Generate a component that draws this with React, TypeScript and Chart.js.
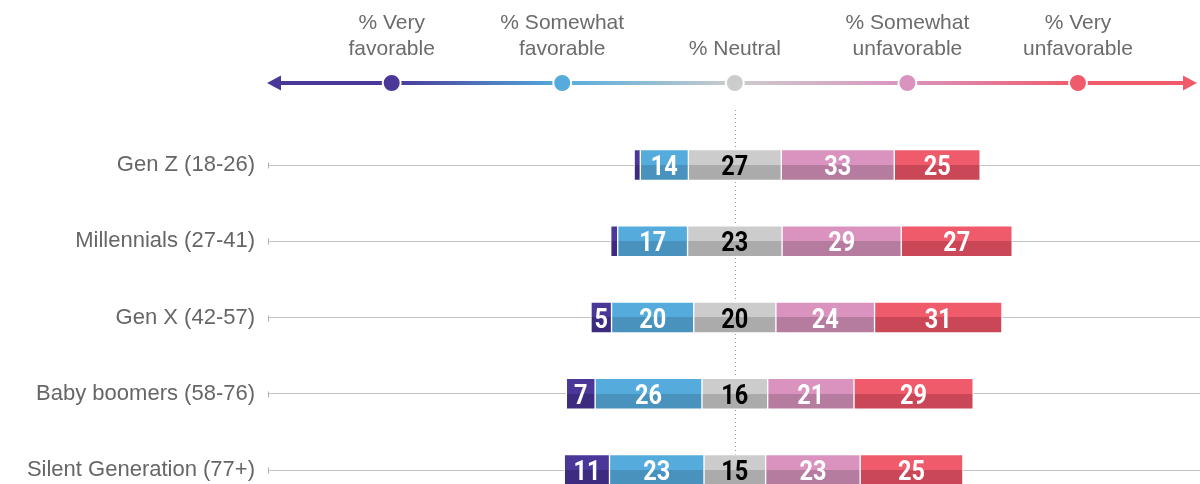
import React, { useEffect, useRef } from "react";
import { Chart, registerables } from "chart.js";

Chart.register(...registerables);

// ---- Data ----
const categories = [
  "Gen Z (18-26)",
  "Millennials (27-41)",
  "Gen X (42-57)",
  "Baby boomers (58-76)",
  "Silent Generation (77+)",
];

// bar lengths as drawn (percentage points)
const veryFavorable = [1.5, 1.7, 5, 7, 11];
const somewhatFavorable = [11.7, 17, 20, 26, 23];
const neutral = [22.6, 23, 20, 16, 15];
const somewhatUnfavorable = [27.5, 29, 24, 21, 23];
const veryUnfavorable = [20.9, 27, 31, 29, 25];

// printed values
const veryFavorableLabels = ["", "", "5", "7", "11"];
const somewhatFavorableLabels = ["14", "17", "20", "26", "23"];
const neutralLabels = ["27", "23", "20", "16", "15"];
const somewhatUnfavorableLabels = ["33", "29", "24", "21", "23"];
const veryUnfavorableLabels = ["25", "27", "31", "29", "25"];

const legendLabels = [
  ["% Very", "favorable"],
  ["% Somewhat", "favorable"],
  ["", "% Neutral"],
  ["% Somewhat", "unfavorable"],
  ["% Very", "unfavorable"],
];

// ---- Styles ----
const topColors = ["#4A3797", "#55ACDC", "#CCCCCC", "#DA93BF", "#EF5B6A"];
const bottomColors = ["#3D2B80", "#4892BD", "#ABABAB", "#B57CA0", "#C94757"];
const labelColors = ["#ffffff", "#ffffff", "#000000", "#ffffff", "#ffffff"];
const BAR_THICKNESS = 31;

export default function App() {
  const ref = useRef<HTMLCanvasElement | null>(null);

  useEffect(() => {
    document.body.style.margin = "0";
    const canvas = ref.current;
    if (!canvas) return;

    const half = neutral.map((n) => n / 2);
    const ranges = [
      veryFavorable.map((v, i) => [-half[i] - somewhatFavorable[i] - v, -half[i] - somewhatFavorable[i]]),
      somewhatFavorable.map((v, i) => [-half[i] - v, -half[i]]),
      neutral.map((v, i) => [-half[i], half[i]]),
      somewhatUnfavorable.map((v, i) => [half[i], half[i] + v]),
      veryUnfavorable.map((v, i) => [half[i] + somewhatUnfavorable[i], half[i] + somewhatUnfavorable[i] + v]),
    ];
    const labelSets = [
      veryFavorableLabels,
      somewhatFavorableLabels,
      neutralLabels,
      somewhatUnfavorableLabels,
      veryUnfavorableLabels,
    ];
    const names = ["Very favorable", "Somewhat favorable", "Neutral", "Somewhat unfavorable", "Very unfavorable"];

    const makeBg = (k: number) => (ctx: any) => {
      const chart = ctx.chart;
      const y = chart.scales && chart.scales.y;
      if (!y || ctx.dataIndex === undefined) return topColors[k];
      const c = y.getPixelForValue(ctx.dataIndex);
      if (!isFinite(c)) return topColors[k];
      const h = BAR_THICKNESS / 2;
      const g = chart.ctx.createLinearGradient(0, c - h, 0, c + h);
      g.addColorStop(0, topColors[k]);
      g.addColorStop(0.5, topColors[k]);
      g.addColorStop(0.5, bottomColors[k]);
      g.addColorStop(1, bottomColors[k]);
      return g;
    };

    const headerPlugin = {
      id: "header",
      beforeDraw(chart: any) {
        const ctx = chart.ctx;
        const x = chart.scales.x;
        const area = chart.chartArea;
        const stops = [-83.5, -42, 0, 42, 83.5].map((v) => x.getPixelForValue(v));
        const lineY = 83;
        const left = area.left - 1;
        const right = chart.width - 3;
        ctx.save();
        // texts
        ctx.fillStyle = "#6b6b6b";
        ctx.font = "21px 'Liberation Sans', Arial, sans-serif";
        ctx.textAlign = "center";
        ctx.textBaseline = "alphabetic";
        legendLabels.forEach((lines, i) => {
          if (lines[0]) ctx.fillText(lines[0], stops[i], 29);
          if (lines[1]) ctx.fillText(lines[1], stops[i], 55);
        });
        // gradient line
        const g = ctx.createLinearGradient(left, 0, right, 0);
        g.addColorStop(0, topColors[0]);
        stops.forEach((s, i) => g.addColorStop((s - left) / (right - left), topColors[i]));
        g.addColorStop(1, topColors[4]);
        ctx.strokeStyle = g;
        ctx.lineWidth = 4;
        ctx.beginPath();
        ctx.moveTo(left + 10, lineY);
        ctx.lineTo(right - 10, lineY);
        ctx.stroke();
        // arrow heads
        ctx.fillStyle = topColors[0];
        ctx.beginPath();
        ctx.moveTo(left, lineY);
        ctx.lineTo(left + 14, lineY - 7.5);
        ctx.lineTo(left + 14, lineY + 7.5);
        ctx.closePath();
        ctx.fill();
        ctx.fillStyle = topColors[4];
        ctx.beginPath();
        ctx.moveTo(right, lineY);
        ctx.lineTo(right - 14, lineY - 7.5);
        ctx.lineTo(right - 14, lineY + 7.5);
        ctx.closePath();
        ctx.fill();
        // dots
        stops.forEach((s, i) => {
          ctx.beginPath();
          ctx.arc(s, lineY, 9, 0, Math.PI * 2);
          ctx.fillStyle = topColors[i];
          ctx.fill();
          ctx.lineWidth = 2;
          ctx.strokeStyle = "#ffffff";
          ctx.stroke();
        });
        // dotted center line
        const cx = Math.round(x.getPixelForValue(0)) + 0.5;
        ctx.strokeStyle = "#9a9a9a";
        ctx.lineWidth = 1;
        ctx.setLineDash([1, 3]);
        ctx.beginPath();
        ctx.moveTo(cx, 110);
        ctx.lineTo(cx, chart.height);
        ctx.stroke();
        ctx.setLineDash([]);
        ctx.restore();
      },
      afterDraw(chart: any) {
        // small ticks at gridline start
        const ctx = chart.ctx;
        const area = chart.chartArea;
        const yS = chart.scales.y;
        ctx.save();
        ctx.strokeStyle = "#b0b0b0";
        ctx.lineWidth = 1;
        categories.forEach((_, i) => {
          const yy = Math.round(yS.getPixelForValue(i));
          ctx.beginPath();
          ctx.moveTo(area.left + 0.5, yy - 2.5);
          ctx.lineTo(area.left + 0.5, yy + 3.5);
          ctx.stroke();
        });
        ctx.restore();
      },
    };

    const labelPlugin = {
      id: "barLabels",
      afterDatasetsDraw(chart: any) {
        const ctx = chart.ctx;
        ctx.save();
        ctx.font = "bold 28px Roboto, 'Liberation Sans', sans-serif";
        ctx.textAlign = "center";
        ctx.textBaseline = "alphabetic";
        chart.data.datasets.forEach((_: any, k: number) => {
          const meta = chart.getDatasetMeta(k);
          meta.data.forEach((el: any, i: number) => {
            const txt = labelSets[k][i];
            if (!txt) return;
            const cx = (el.x + el.base) / 2;
            ctx.save();
            ctx.translate(cx, el.y + 10);
            ctx.scale(0.84, 1);
            ctx.fillStyle = labelColors[k];
            ctx.fillText(txt, 0, 0);
            ctx.restore();
          });
        });
        ctx.restore();
      },
    };

    const chart = new Chart(canvas, {
      type: "bar",
      data: {
        labels: categories,
        datasets: ranges.map((r, k) => ({
          label: names[k],
          data: r as any,
          backgroundColor: makeBg(k) as any,
          borderColor: "#ffffff",
          borderWidth: 1,
          borderSkipped: false,
          barThickness: BAR_THICKNESS,
          grouped: false,
          clip: false as any,
        })),
      },
      options: {
        indexAxis: "y",
        animation: false,
        responsive: false,
        maintainAspectRatio: false,
        layout: { padding: { top: 165, bottom: 14, left: 0, right: 0 } },
        plugins: {
          legend: { display: false },
          tooltip: { enabled: false },
        },
        scales: {
          x: {
            type: "linear",
            min: -113.6,
            max: 113.2,
            display: false,
          },
          y: {
            type: "category",
            offset: false,
            border: { display: false },
            grid: {
              color: "#c4c4c4",
              lineWidth: 1,
              drawTicks: false,
              offset: false,
            },
            ticks: {
              color: "#666666",
              padding: 13,
              font: { family: "'Liberation Sans', Arial, sans-serif", size: 22 },
            },
            afterFit: (s: any) => {
              s.width = 268;
              s.paddingTop = 0;
              s.paddingBottom = 0;
            },
          },
        },
      },
      plugins: [headerPlugin, labelPlugin],
    } as any);

    return () => chart.destroy();
  }, []);

  return (
    <div style={{ width: 1200, height: 484 }}>
      <canvas ref={ref} width={1200} height={484} style={{ display: "block" }} />
    </div>
  );
}
